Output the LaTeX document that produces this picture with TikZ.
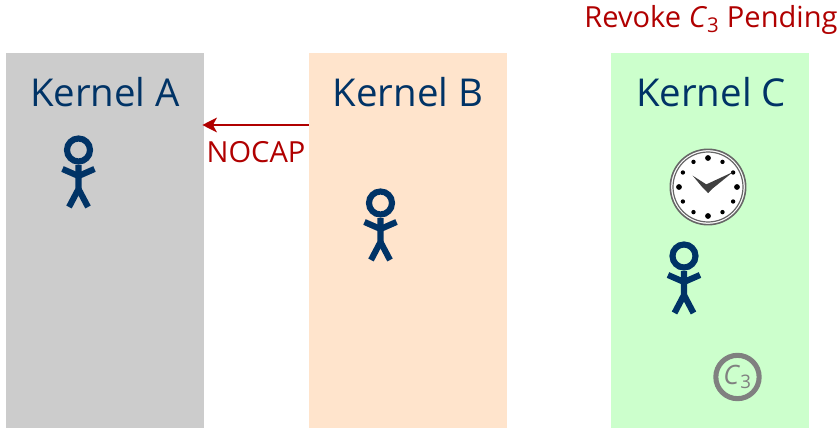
\documentclass[tikz,border=0pt]{standalone}
\usepackage{fontspec}
\setmainfont{Open Sans}
\usepackage{tikz}
\definecolor{navy}{HTML}{003366}
\definecolor{alert}{HTML}{B00000}
\definecolor{kernelgrey}{HTML}{CCCCCC}
\definecolor{kernelpeach}{HTML}{FFE4CC}
\definecolor{kernelgreen}{HTML}{CCFFCC}
\tikzstyle{kernel} = [rectangle,
minimum width=148.5pt,
minimum height=281.5pt,
inner sep=0pt,
draw=none]
\tikzstyle{kernellabel} = [text=navy, font=\fontsize{28.8}{29}\selectfont]
\tikzstyle{alertlabel} = [text=alert, font=\fontsize{21.8}{22}\selectfont]
\tikzstyle{arrow} = [alert, line width=1.5pt, shorten >=-1.5pt, -{Stealth[length=11pt,width=11pt,inset=3pt]}]
\tikzstyle{token} = [circle, draw=black!50, line width=3.8pt, minimum size=32.5pt, inner sep=0pt,
text=black!50, font=\fontsize{20}{20}\selectfont]
\tikzset{
  actor/.pic={
    \draw [navy, line width=4.6pt] (0,0) circle (11.5);
    \draw [navy, line width=4.6pt] (0,15) -- (0,39) -- (-9.5,57);
    \draw [navy, line width=4.6pt] (0,39) -- (9.5,57);
    \draw [navy, line width=4.6pt] (-16,19) -- (0,26) -- (16,19);
  }
}
\usetikzlibrary{arrows.meta}
\begin{document}
\begin{tikzpicture}[x=0.75pt,y=-0.75pt]
    \useasboundingbox (0,0) rectangle (840,428);

    % Kernels
    \node (ka) [kernel, fill=kernelgrey] at (105,240.5) {};
    \node (kb) [kernel, fill=kernelpeach] at (408,240.5) {};
    \node (kc) [kernel, fill=kernelgreen] at (710.2,240.5) {};
    \node (kalabel) [kernellabel] at (105,92) {Kernel A};
    \node (kblabel) [kernellabel] at (408,92) {Kernel B};
    \node (kclabel) [kernellabel] at (711,92) {Kernel C};

    % Threads
    \pic at (78.5,150) {actor};
    \pic at (380.5,203) {actor};
    \pic at (684,256) {actor};

    % Refused request
    \coordinate (nocaplevel) at (256,125);
    \draw [arrow] (kb.west |- nocaplevel) -- (ka.east |- nocaplevel);
    \node (nocap) [alertlabel] at (256,152) {NOCAP};

    % Pending revocation
    \node (pending) [alertlabel] at (711,20) {Revoke \textit{C}\textsubscript{3} Pending};
    \node (c3) [token] at (737.5,377) {\textit{C}\textsubscript{3}};

    % Clock
    \node (clock) [circle, fill=white, draw=black!60, line width=1.2pt, minimum size=56.5pt, inner sep=0pt] at (708,187) {};
    \draw [black!60, line width=0.9pt] (clock.center) circle (35);
    \foreach \a in {0,90,180,270}
        \fill (clock.center) ++(\a:29) circle (2.9);
    \foreach \a in {30,60,120,150,210,240,300,330}
        \fill (clock.center) ++(\a:29) circle (2.2);
    \fill [black!75] (692.7,175.7) -- (703,188) -- (708,193) -- (712,188) -- cycle;
    \fill [black!75] (733,172) -- (712,189) -- (708,193) -- (705,185) -- cycle;
  \end{tikzpicture}
\end{document}
